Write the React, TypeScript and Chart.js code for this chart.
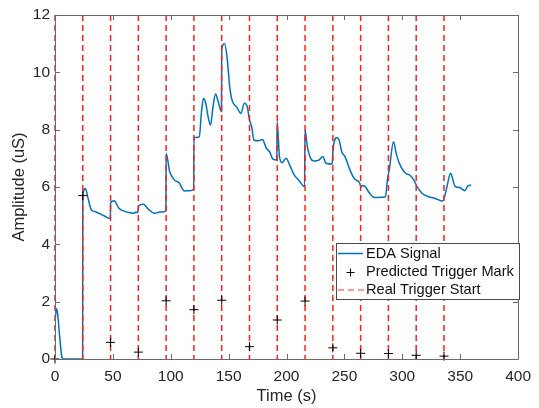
import React, { useEffect, useRef } from 'react';
import { Chart, registerables } from 'chart.js';

Chart.register(...registerables);

// EDA signal (time in s, amplitude in uS)
const edaTime = [
  0, 1.2, 2.2, 4, 6, 7, 23.9,
  24, 26.3, 28, 31.2, 34, 38.2, 43, 47.8,
  48, 51.2, 55.2, 60.9, 65, 68, 70, 71.5,
  72.2, 76.4, 80.7, 86.4, 90.6, 93.4, 95.8,
  96, 99.1, 103.3, 107.6, 109, 111.8, 116.1, 119.8,
  120, 121.7, 124.6, 126.5, 128.2, 130.2, 132.5, 134.4, 136.5, 138.7, 141, 143.8,
  144, 146.4, 148.6, 150.9, 152.9, 157.1, 160.5, 163.6, 166.2, 167.6,
  168.4, 169.9, 171.8, 175.5, 179.2, 182.6, 185.4, 188.3, 191.6,
  191.9, 193.9, 196.2, 199.6, 202.4, 206.6, 210.9, 215.6,
  215.9, 218, 220.8, 223.6, 227.9, 231.3, 234.1, 239.5,
  240, 243.5, 245.4, 247.7, 250.5, 254.8, 258.4, 263.3,
  264.3, 266, 267.5, 271.8, 276, 281.7, 285.4,
  287.3, 288.7, 292.4, 295, 298.7, 302.9, 306.3, 310,
  312.8, 317, 322.7, 328.4, 334.9,
  336.9, 338.9, 341.7, 343.4, 345.4, 349.6, 353.9, 356.7, 359.5,
];
const edaValue = [
  1.3, 1.75, 1.6, 0.8, 0.05, 0, 0,
  5.7, 5.95, 5.7, 5.22, 5.15, 5.08, 4.98, 4.9,
  5.45, 5.52, 5.26, 5.14, 5.1, 5.08, 5.13, 5.1,
  5.34, 5.4, 5.22, 5.08, 5.13, 5.13, 5.17,
  7.17, 6.53, 6.24, 6.13, 6.01, 5.86, 5.87, 5.92,
  7.73, 7.73, 7.75, 8.6, 9.09, 8.92, 8.4, 8.16, 8.8, 9.24, 8.97, 8.63,
  10.78, 11.01, 10.54, 9.5, 9.03, 8.78, 8.57, 8.92, 8.78, 8.43,
  8.28, 8.1, 7.64, 7.61, 7.66, 7.35, 7.23, 6.97, 6.94,
  8.28, 7.06, 6.85, 7.0, 6.8, 6.42, 6.22, 6.01,
  7.99, 7.41, 7.0, 6.91, 6.94, 7.06, 6.83, 6.8,
  7.23, 7.73, 7.64, 7.23, 7.06, 6.59, 6.3, 6.13,
  6.0, 6.05, 6.03, 5.78, 5.63, 5.64, 5.66,
  6.3, 6.59, 7.58, 7.12, 6.71, 6.48, 6.42, 6.24,
  6.01, 5.78, 5.66, 5.6, 5.51,
  5.72, 6.07, 6.48, 6.3, 6.03, 5.98, 5.87, 6.04, 6.07,
];

// Real trigger start times (s) and predicted trigger marks (uS)
const triggerTimes = [0, 24, 48, 72, 96, 120, 144, 168, 192, 216, 240, 264, 288, 312, 336];
const predictedValues = [0, 5.7, 0.58, 0.24, 2.03, 1.72, 2.05, 0.43, 1.36, 2.02, 0.39, 0.2, 0.19, 0.13, 0.1];

const xTicks = [0, 50, 100, 150, 200, 250, 300, 350, 400];
const yTicks = [0, 2, 4, 6, 8, 10, 12];

const legendLabels = ['EDA Signal', 'Predicted Trigger Mark', 'Real Trigger Start'];
const xTitle = 'Time (s)';
const yTitle = 'Amplitude (uS)';

const FONT = '"Liberation Sans", Arial, Helvetica, sans-serif';
const BLUE = '#0072BD';
const RED = '#ff1f1f';

// Real trigger start lines, drawn right after the EDA signal (dataset 1), under the markers
const triggerPlugin = {
  id: 'triggers',
  afterDatasetDraw(chart: any, args: any) {
    if (args.index !== 1) return;
    const { ctx, chartArea: a, scales } = chart;
    ctx.save();
    ctx.strokeStyle = RED;
    ctx.lineWidth = 1.5;
    ctx.setLineDash([6, 4]);
    triggerTimes.forEach((t) => {
      const px = scales.x.getPixelForValue(t);
      ctx.beginPath();
      ctx.moveTo(px, a.top);
      ctx.lineTo(px, a.bottom);
      ctx.stroke();
    });
    ctx.restore();
  },
};

const framePlugin = {
  id: 'frame',
  afterDraw(chart: any) {
    const { ctx, chartArea: a, scales } = chart;
    ctx.save();
    ctx.strokeStyle = '#6a6a6a';
    ctx.lineWidth = 1;
    ctx.setLineDash([]);
    ctx.beginPath();
    ctx.rect(Math.round(a.left) + 0.5, Math.round(a.top) + 0.5, Math.round(a.right - a.left), Math.round(a.bottom - a.top));
    ctx.stroke();
    const tl = 5;
    ctx.beginPath();
    xTicks.forEach((v) => {
      const px = Math.round(scales.x.getPixelForValue(v)) + 0.5;
      ctx.moveTo(px, a.bottom);
      ctx.lineTo(px, a.bottom - tl);
      ctx.moveTo(px, a.top);
      ctx.lineTo(px, a.top + tl);
    });
    yTicks.forEach((v) => {
      const py = Math.round(scales.y.getPixelForValue(v)) + 0.5;
      ctx.moveTo(a.left, py);
      ctx.lineTo(a.left + tl, py);
      ctx.moveTo(a.right, py);
      ctx.lineTo(a.right - tl, py);
    });
    ctx.stroke();

    // legend box
    const bx = 336.5, by = 243.5, bw = 183, bh = 56;
    ctx.fillStyle = '#ffffff';
    ctx.fillRect(bx, by, bw, bh);
    ctx.strokeStyle = '#4a4a4a';
    ctx.strokeRect(bx, by, bw, bh);
    const rows = [253.5, 272, 290];
    const sx0 = 338, sx1 = 363, tx = 366;
    ctx.strokeStyle = BLUE;
    ctx.lineWidth = 1.5;
    ctx.beginPath();
    ctx.moveTo(sx0, rows[0]);
    ctx.lineTo(sx1, rows[0]);
    ctx.stroke();
    ctx.strokeStyle = '#000';
    ctx.lineWidth = 1;
    const cx = 350.5, cy = rows[1] + 0.5;
    ctx.beginPath();
    ctx.moveTo(cx - 4, cy);
    ctx.lineTo(cx + 4, cy);
    ctx.moveTo(cx, cy - 4);
    ctx.lineTo(cx, cy + 4);
    ctx.stroke();
    ctx.strokeStyle = '#ff7a7a';
    ctx.lineWidth = 1.5;
    ctx.setLineDash([6, 4]);
    ctx.beginPath();
    ctx.moveTo(sx0, rows[2]);
    ctx.lineTo(sx1 + 2, rows[2]);
    ctx.stroke();
    ctx.setLineDash([]);
    ctx.fillStyle = '#111';
    ctx.font = `14.6px ${FONT}`;
    ctx.textBaseline = 'middle';
    ctx.textAlign = 'left';
    legendLabels.forEach((t, i) => ctx.fillText(t, tx, rows[i]));
    ctx.restore();
  },
};

export default function App() {
  const ref = useRef<HTMLCanvasElement | null>(null);
  useEffect(() => {
    document.body.style.margin = '0';
    const canvas = ref.current!;
    const chart = new Chart(canvas, {
      type: 'line',
      data: {
        datasets: [
          {
            label: 'Predicted Trigger Mark',
            data: triggerTimes.map((t, i) => ({ x: t, y: predictedValues[i] })),
            showLine: false,
            pointStyle: 'cross',
            pointRadius: 4.5,
            pointHoverRadius: 4.5,
            pointBorderColor: '#000',
            pointBackgroundColor: '#000',
            pointBorderWidth: 1,
            borderColor: '#000',
            clip: false,
            order: 1,
          } as any,
          {
            label: 'EDA Signal',
            data: edaTime.map((t, i) => ({ x: t, y: edaValue[i] })),
            borderColor: BLUE,
            backgroundColor: BLUE,
            borderWidth: 1.5,
            pointRadius: 0,
            pointHoverRadius: 0,
            cubicInterpolationMode: 'monotone',
            fill: false,
            order: 3,
          },
        ],
      },
      options: {
        animation: false,
        responsive: false,
        devicePixelRatio: 1,
        events: [],
        layout: { padding: { top: 15, right: 13, left: 0, bottom: 0 } },
        plugins: { legend: { display: false }, tooltip: { enabled: false } },
        scales: {
          x: {
            type: 'linear',
            min: 0,
            max: 400,
            afterBuildTicks: (s: any) => {
              s.ticks = xTicks.map((v) => ({ value: v }));
            },
            afterFit: (s: any) => {
              s.height = 49;
            },
            grid: { display: false, drawTicks: false },
            border: { display: false },
            ticks: { color: '#262626', font: { size: 15.5, family: FONT }, padding: 8, maxRotation: 0, autoSkip: false },
            title: { display: true, text: xTitle, color: '#262626', font: { size: 16.5, family: FONT }, padding: { top: 0, bottom: 2 } },
          },
          y: {
            type: 'linear',
            min: 0,
            max: 12,
            afterBuildTicks: (s: any) => {
              s.ticks = yTicks.map((v) => ({ value: v }));
            },
            afterFit: (s: any) => {
              s.width = 55;
            },
            grid: { display: false, drawTicks: false },
            border: { display: false },
            ticks: { color: '#262626', font: { size: 15.5, family: FONT }, padding: 5, autoSkip: false },
            title: { display: true, text: yTitle, color: '#262626', font: { size: 16.5, family: FONT }, padding: { top: 10, bottom: 0 } },
          },
        },
      },
      plugins: [triggerPlugin, framePlugin],
    });
    return () => chart.destroy();
  }, []);
  return (
    <div style={{ width: 539, height: 408, background: '#fff' }}>
      <canvas ref={ref} width={539} height={408} style={{ display: 'block' }} />
    </div>
  );
}
